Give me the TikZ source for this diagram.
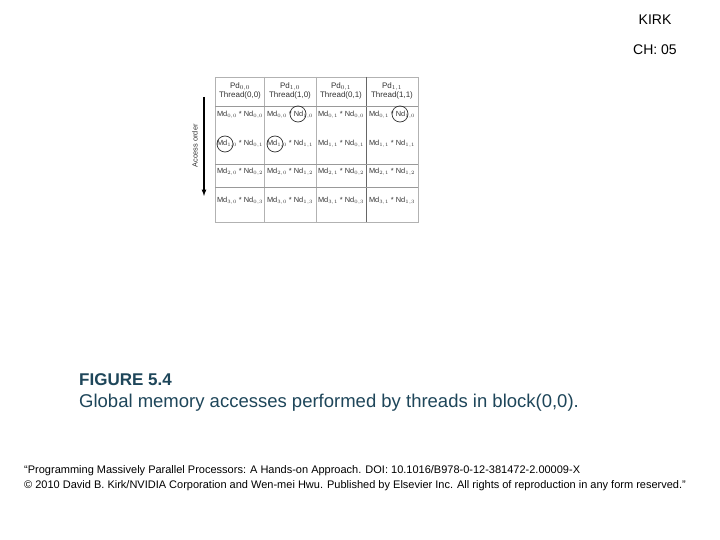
\documentclass[tikz,border=0pt]{standalone}
\usepackage{fontspec}
\setmainfont{Liberation Sans}
\begin{document}
\begin{tikzpicture}[x=1pt,y=-1pt,
 cell/.style={font=\fontsize{7.4}{9}\selectfont,inner sep=0pt,text=black!80},
 circ/.style={draw=black!80,circle,minimum size=16pt,inner sep=0pt,line width=0.7pt}]
\fill[white] (0,0) rectangle (720,540);
\useasboundingbox (0,0) rectangle (720,540);
\node (kirk) at (655,20) {\fontsize{14}{16}\selectfont KIRK};
\node (ch) at (655,50) {\fontsize{14}{16}\selectfont CH: 05};
% grid
\draw[black!30] (215,77) rectangle (418,222);
\foreach \x in {264,316} \draw[black!30] (\x,77) -- (\x,222);
\draw[black!60] (366,77) -- (366,222);
\foreach \y in {106,164,187} \draw[black!40] (215,\y) -- (418,\y);
% headers
\foreach \c/\x/\i/\j in {1/240/0/0,2/290/1/0,3/341/0/1,4/392/1/1}{
  \node[cell,align=center,font=\fontsize{8}{9.5}\selectfont] (h\c) at (\x,91) {Pd$_{\i,\j}$\\Thread(\i,\j)};
}
\foreach \r/\y/\k in {1/115/0,2/144/1,3/172/2,4/201/3}{
  \node[cell] (c\r1) at (240,\y) {Md$_{\k,0}$ * Nd$_{0,\k}$};
  \node[cell] (c\r2) at (290,\y) {Md$_{\k,0}$ * Nd$_{1,\k}$};
  \node[cell] (c\r3) at (341,\y) {Md$_{\k,1}$ * Nd$_{0,\k}$};
  \node[cell] (c\r4) at (392,\y) {Md$_{\k,1}$ * Nd$_{1,\k}$};
}
\node[circ] (o1) at (298,114) {};
\node[circ] (o2) at (400,114) {};
\node[circ] (o3) at (225,144) {};
\node[circ] (o4) at (275,144) {};
% arrow
\coordinate (a1) at (204,97);
\coordinate (a2) at (204,196);
\draw[line width=1.2pt,-latex] (a1) -- (a2);
\node[cell,rotate=90] (ao) at (195,146) {Access order};
% caption
\node[anchor=west,inner sep=0pt,text={rgb,255:red,30;green,70;blue,90},font=\fontsize{17}{20}\selectfont\bfseries] (fig) at (79,380) {FIGURE 5.4};
\node[anchor=west,inner sep=0pt,text={rgb,255:red,30;green,70;blue,90},font=\fontsize{18.5}{21}\selectfont] (cap) at (79,403) {Global memory accesses performed by threads in block(0,0).};
\node[anchor=west,inner sep=0pt,font=\fontsize{11}{13}\selectfont] (f1) at (24,471) {``Programming Massively Parallel Processors: A Hands-on Approach. DOI: 10.1016/B978-0-12-381472-2.00009-X};
\node[anchor=west,inner sep=0pt,font=\fontsize{11}{13}\selectfont] (f2) at (24,486) {© 2010 David B. Kirk/NVIDIA Corporation and Wen-mei Hwu. Published by Elsevier Inc. All rights of reproduction in any form reserved.''};
\end{tikzpicture}
\end{document}
